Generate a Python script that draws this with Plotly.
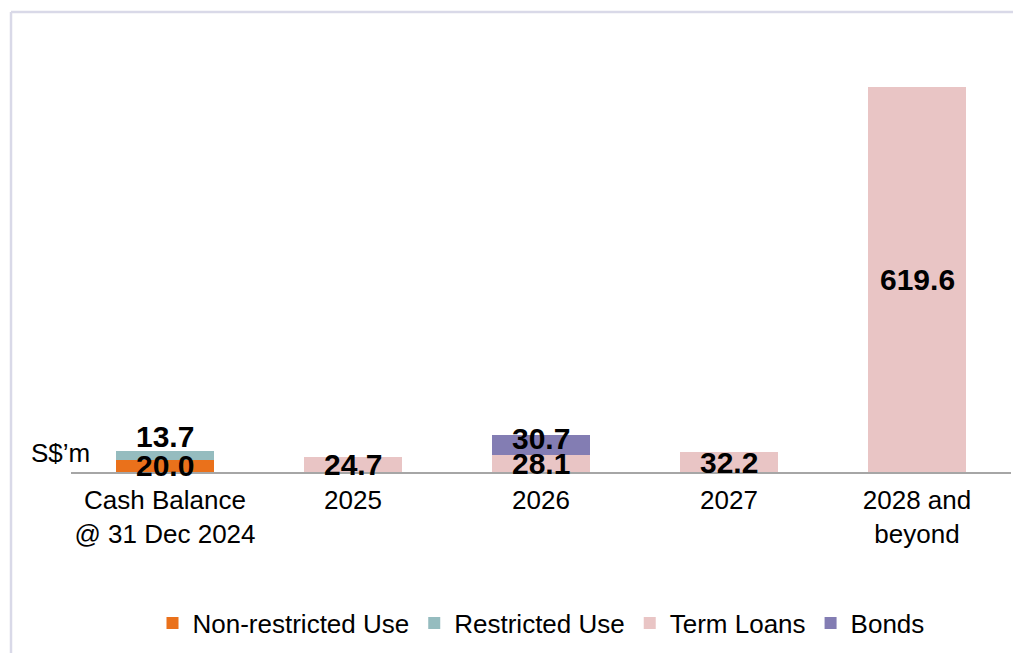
import plotly.graph_objects as go

categories = ["Cash Balance<br>@ 31 Dec 2024", "2025", "2026", "2027", "2028 and<br>beyond"]
non_restricted = [20.0, None, None, None, None]
restricted = [13.7, None, None, None, None]
term_loans = [None, 24.7, 28.1, 32.2, 619.6]
bonds = [None, None, 30.7, None, None]

series = [
    ("Non-restricted Use", non_restricted, "#EA711B"),
    ("Restricted Use", restricted, "#95BCBF"),
    ("Term Loans", term_loans, "#E9C5C5"),
    ("Bonds", bonds, "#837DB3"),
]

W, H = 1013, 653
ML, MR, MT, MB = 71, 2, 37, 181
YMAX = 700
FONT = "Liberation Sans, Arial, sans-serif"

fig = go.Figure()
for name, vals, color in series:
    fig.add_trace(go.Bar(
        x=categories, y=vals, name=name, marker=dict(color=color, line=dict(width=0)),
        width=0.52, hoverinfo="skip",
    ))

# data labels (x given as category index)
base = [0.0] * len(categories)
for name, vals, color in series:
    for i, v in enumerate(vals):
        if v is None:
            continue
        bottom = base[i]
        top = bottom + v
        base[i] = top
        if name == "Restricted Use":
            y, anchor, shift = top, "bottom", -4
        elif name == "Bonds":
            y, anchor, shift = (bottom + top) / 2, "middle", 7
        else:
            y, anchor, shift = (bottom + top) / 2, "middle", 0
        fig.add_annotation(
            x=i, y=y, xref="x", yref="y", text=f"{v:.1f}", showarrow=False,
            yanchor=anchor, yshift=shift,
            font=dict(family=FONT, size=30, color="#000000", weight="bold"),
        )

pw, ph = W - ML - MR, H - MT - MB
def px(xp):
    return (xp - ML) / pw
def py(yp):
    return (H - MB - yp) / ph

# unit label
fig.add_annotation(
    xref="paper", yref="paper", x=px(92), y=py(453),
    xanchor="right", yanchor="middle", text="S$’m", showarrow=False,
    font=dict(family=FONT, size=26, color="#000000"),
)

# frame lines (left and top)
fig.add_shape(type="line", xref="paper", yref="paper", x0=px(11), x1=px(11), y0=py(12), y1=py(H + 5),
              line=dict(color="#D9D9E8", width=2.5))
fig.add_shape(type="line", xref="paper", yref="paper", x0=px(11), x1=px(W + 5), y0=py(12), y1=py(12),
              line=dict(color="#D9D9E8", width=2.5))

fig.update_layout(
    width=W, height=H,
    margin=dict(l=ML, r=MR, t=MT, b=MB, pad=0),
    barmode="stack",
    plot_bgcolor="#FFFFFF", paper_bgcolor="#FFFFFF",
    font=dict(family=FONT, size=26, color="#000000"),
    showlegend=True,
    legend=dict(orientation="h", x=0.5, xanchor="center", y=py(623), yanchor="middle",
                font=dict(size=26), traceorder="normal"),
    xaxis=dict(type="category", range=[-0.5, len(categories) - 0.5], autorange=False,
               showline=True, linecolor="#A6A6A6", linewidth=1.5, ticks="",
               showgrid=False, tickfont=dict(size=26), ticklabelstandoff=4),
    yaxis=dict(range=[0, YMAX], autorange=False, visible=False, showgrid=False, zeroline=False),
)

fig.write_html("out.html")
